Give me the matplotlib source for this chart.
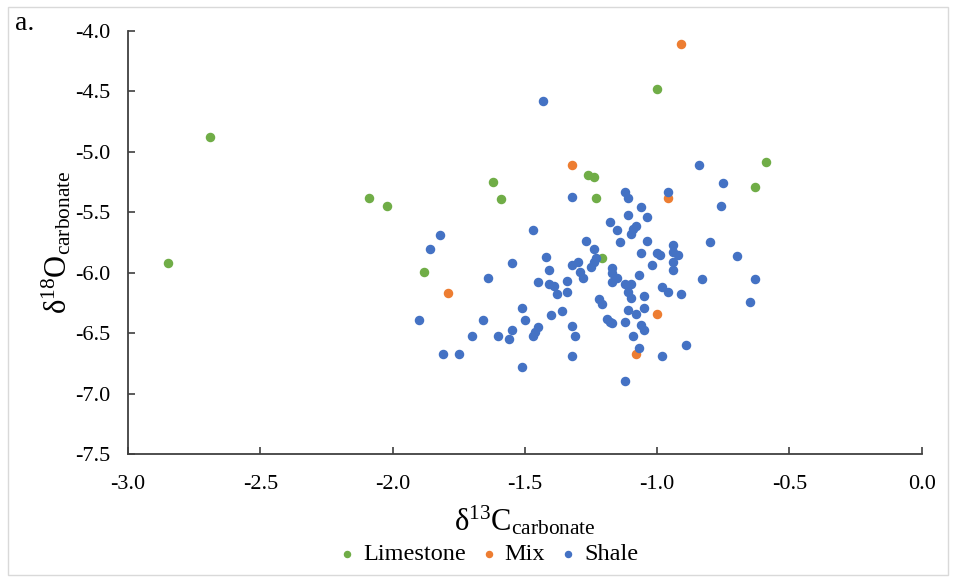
import matplotlib
matplotlib.use("Agg")
import matplotlib.pyplot as plt
from matplotlib.patches import Rectangle
from matplotlib.ticker import FuncFormatter

plt.rcParams['font.family'] = ['Liberation Serif', 'DejaVu Serif']
plt.rcParams['mathtext.fontset'] = 'custom'
plt.rcParams['mathtext.rm'] = 'Liberation Serif'
plt.rcParams['mathtext.it'] = 'Liberation Serif:italic'

# d13C / d18O of carbonate, by lithology
lime_c = [-2.85, -2.69, -2.09, -2.02, -1.88, -1.62, -1.59, -1.26, -1.24, -1.23,
          -1.21, -1.00, -0.59, -0.63]
lime_o = [-5.92, -4.88, -5.38, -5.45, -5.99, -5.25, -5.39, -5.19, -5.21, -5.38,
          -5.88, -4.48, -5.08, -5.29]

mix_c = [-0.91, -1.32, -1.79, -0.96, -1.00, -1.08]
mix_o = [-4.11, -5.11, -6.17, -5.38, -6.34, -6.67]

shale_c = [-1.43, -1.32, -1.82, -1.47, -1.86, -1.27, -1.24, -1.42, -1.55, -1.41,
           -1.64, -1.32, -1.30, -1.29, -1.28, -1.25, -1.24, -1.23, -1.45, -1.41,
           -1.39, -1.34, -1.38, -1.34, -1.22, -1.51, -1.90, -1.66, -1.50, -1.40,
           -1.36, -1.55, -1.45, -1.46, -1.47, -1.32, -1.70, -1.60, -1.56, -1.31,
           -1.81, -1.75, -1.32, -1.51, -0.84, -0.75, -0.76, -1.12, -1.11, -0.96,
           -1.06, -1.04, -1.11, -1.18, -1.15, -1.08, -1.09, -1.10, -1.14, -1.04,
           -0.80, -0.94, -1.06, -1.00, -0.99, -0.94, -0.92, -0.70, -0.94, -1.02,
           -0.94, -1.17, -1.17, -1.15, -1.07, -0.83, -0.63, -0.98, -1.12, -1.10,
           -1.17, -0.96, -0.91, -0.65, -1.11, -1.10, -1.05, -1.21, -1.05, -1.11,
           -1.08, -1.19, -1.18, -1.17, -1.12, -1.06, -1.05, -1.09, -0.89, -1.07,
           -0.98, -1.12]
shale_o = [-4.58, -5.37, -5.69, -5.65, -5.80, -5.74, -5.80, -5.87, -5.92, -5.98,
           -6.04, -5.94, -5.91, -5.99, -6.04, -5.95, -5.91, -5.88, -6.08, -6.09,
           -6.11, -6.07, -6.18, -6.16, -6.22, -6.29, -6.39, -6.39, -6.39, -6.35,
           -6.32, -6.47, -6.45, -6.49, -6.52, -6.44, -6.52, -6.52, -6.55, -6.52,
           -6.67, -6.67, -6.69, -6.78, -5.11, -5.26, -5.45, -5.33, -5.38, -5.33,
           -5.46, -5.54, -5.52, -5.58, -5.65, -5.61, -5.64, -5.68, -5.75, -5.74,
           -5.75, -5.77, -5.84, -5.84, -5.85, -5.83, -5.85, -5.86, -5.91, -5.94,
           -5.98, -5.96, -6.00, -6.04, -6.02, -6.05, -6.05, -6.12, -6.09, -6.09,
           -6.08, -6.16, -6.18, -6.24, -6.16, -6.21, -6.19, -6.26, -6.29, -6.31,
           -6.34, -6.38, -6.41, -6.42, -6.41, -6.43, -6.47, -6.52, -6.60, -6.62,
           -6.69, -6.90]

fig = plt.figure(figsize=(9.55, 5.81), dpi=100)
fig.patches.append(Rectangle((8 / 955, 6 / 581), 940 / 955, 568 / 581,
                             transform=fig.transFigure, fill=False,
                             edgecolor='#d9d9d9', linewidth=1))
ax = fig.add_axes([128 / 955, 1 - 454 / 581, (921.7 - 128) / 955, (454 - 31) / 581])

ax.scatter(lime_c, lime_o, s=34, color='#70AD47', label='Limestone', zorder=3)
ax.scatter(mix_c, mix_o, s=34, color='#ED7D31', label='Mix', zorder=3)
ax.scatter(shale_c, shale_o, s=34, color='#4472C4', label='Shale', zorder=3)

ax.set_xlim(-3.0, 0.0)
ax.set_ylim(-7.5, -4.0)
ax.set_xticks([-3.0, -2.5, -2.0, -1.5, -1.0, -0.5, 0.0])
ax.set_yticks([-7.5, -7.0, -6.5, -6.0, -5.5, -5.0, -4.5, -4.0])
fmt = FuncFormatter(lambda v, p: ('%.1f' % v).replace('\u2212', '-'))
ax.xaxis.set_major_formatter(fmt)
ax.yaxis.set_major_formatter(fmt)

for s in ['top', 'right']:
    ax.spines[s].set_visible(False)
for s in ['left', 'bottom']:
    ax.spines[s].set_color('#404040')
    ax.spines[s].set_linewidth(1.3)
ax.tick_params(axis='both', direction='in', length=5, width=1.2, color='#404040',
               labelsize=16)
ax.tick_params(axis='x', pad=15)
ax.tick_params(axis='y', pad=13)

ax.set_xlabel('δ$^{13}$C$_{\\mathrm{carbonate}}$', fontsize=22, labelpad=7)
ax.set_ylabel('δ$^{18}$O$_{\\mathrm{carbonate}}$', fontsize=22, labelpad=1)

fig.text(15 / 955, 1 - 30 / 581, 'a.', fontsize=20)

ax.legend(loc='center', bbox_to_anchor=(0.5 + 9 / 955, 1 - 554 / 581),
          bbox_transform=fig.transFigure, ncol=3, frameon=False, fontsize=17.5,
          handlelength=1.0, handletextpad=0.15, columnspacing=0.45,
          markerscale=0.75)

fig.savefig('out.png', dpi=100)
